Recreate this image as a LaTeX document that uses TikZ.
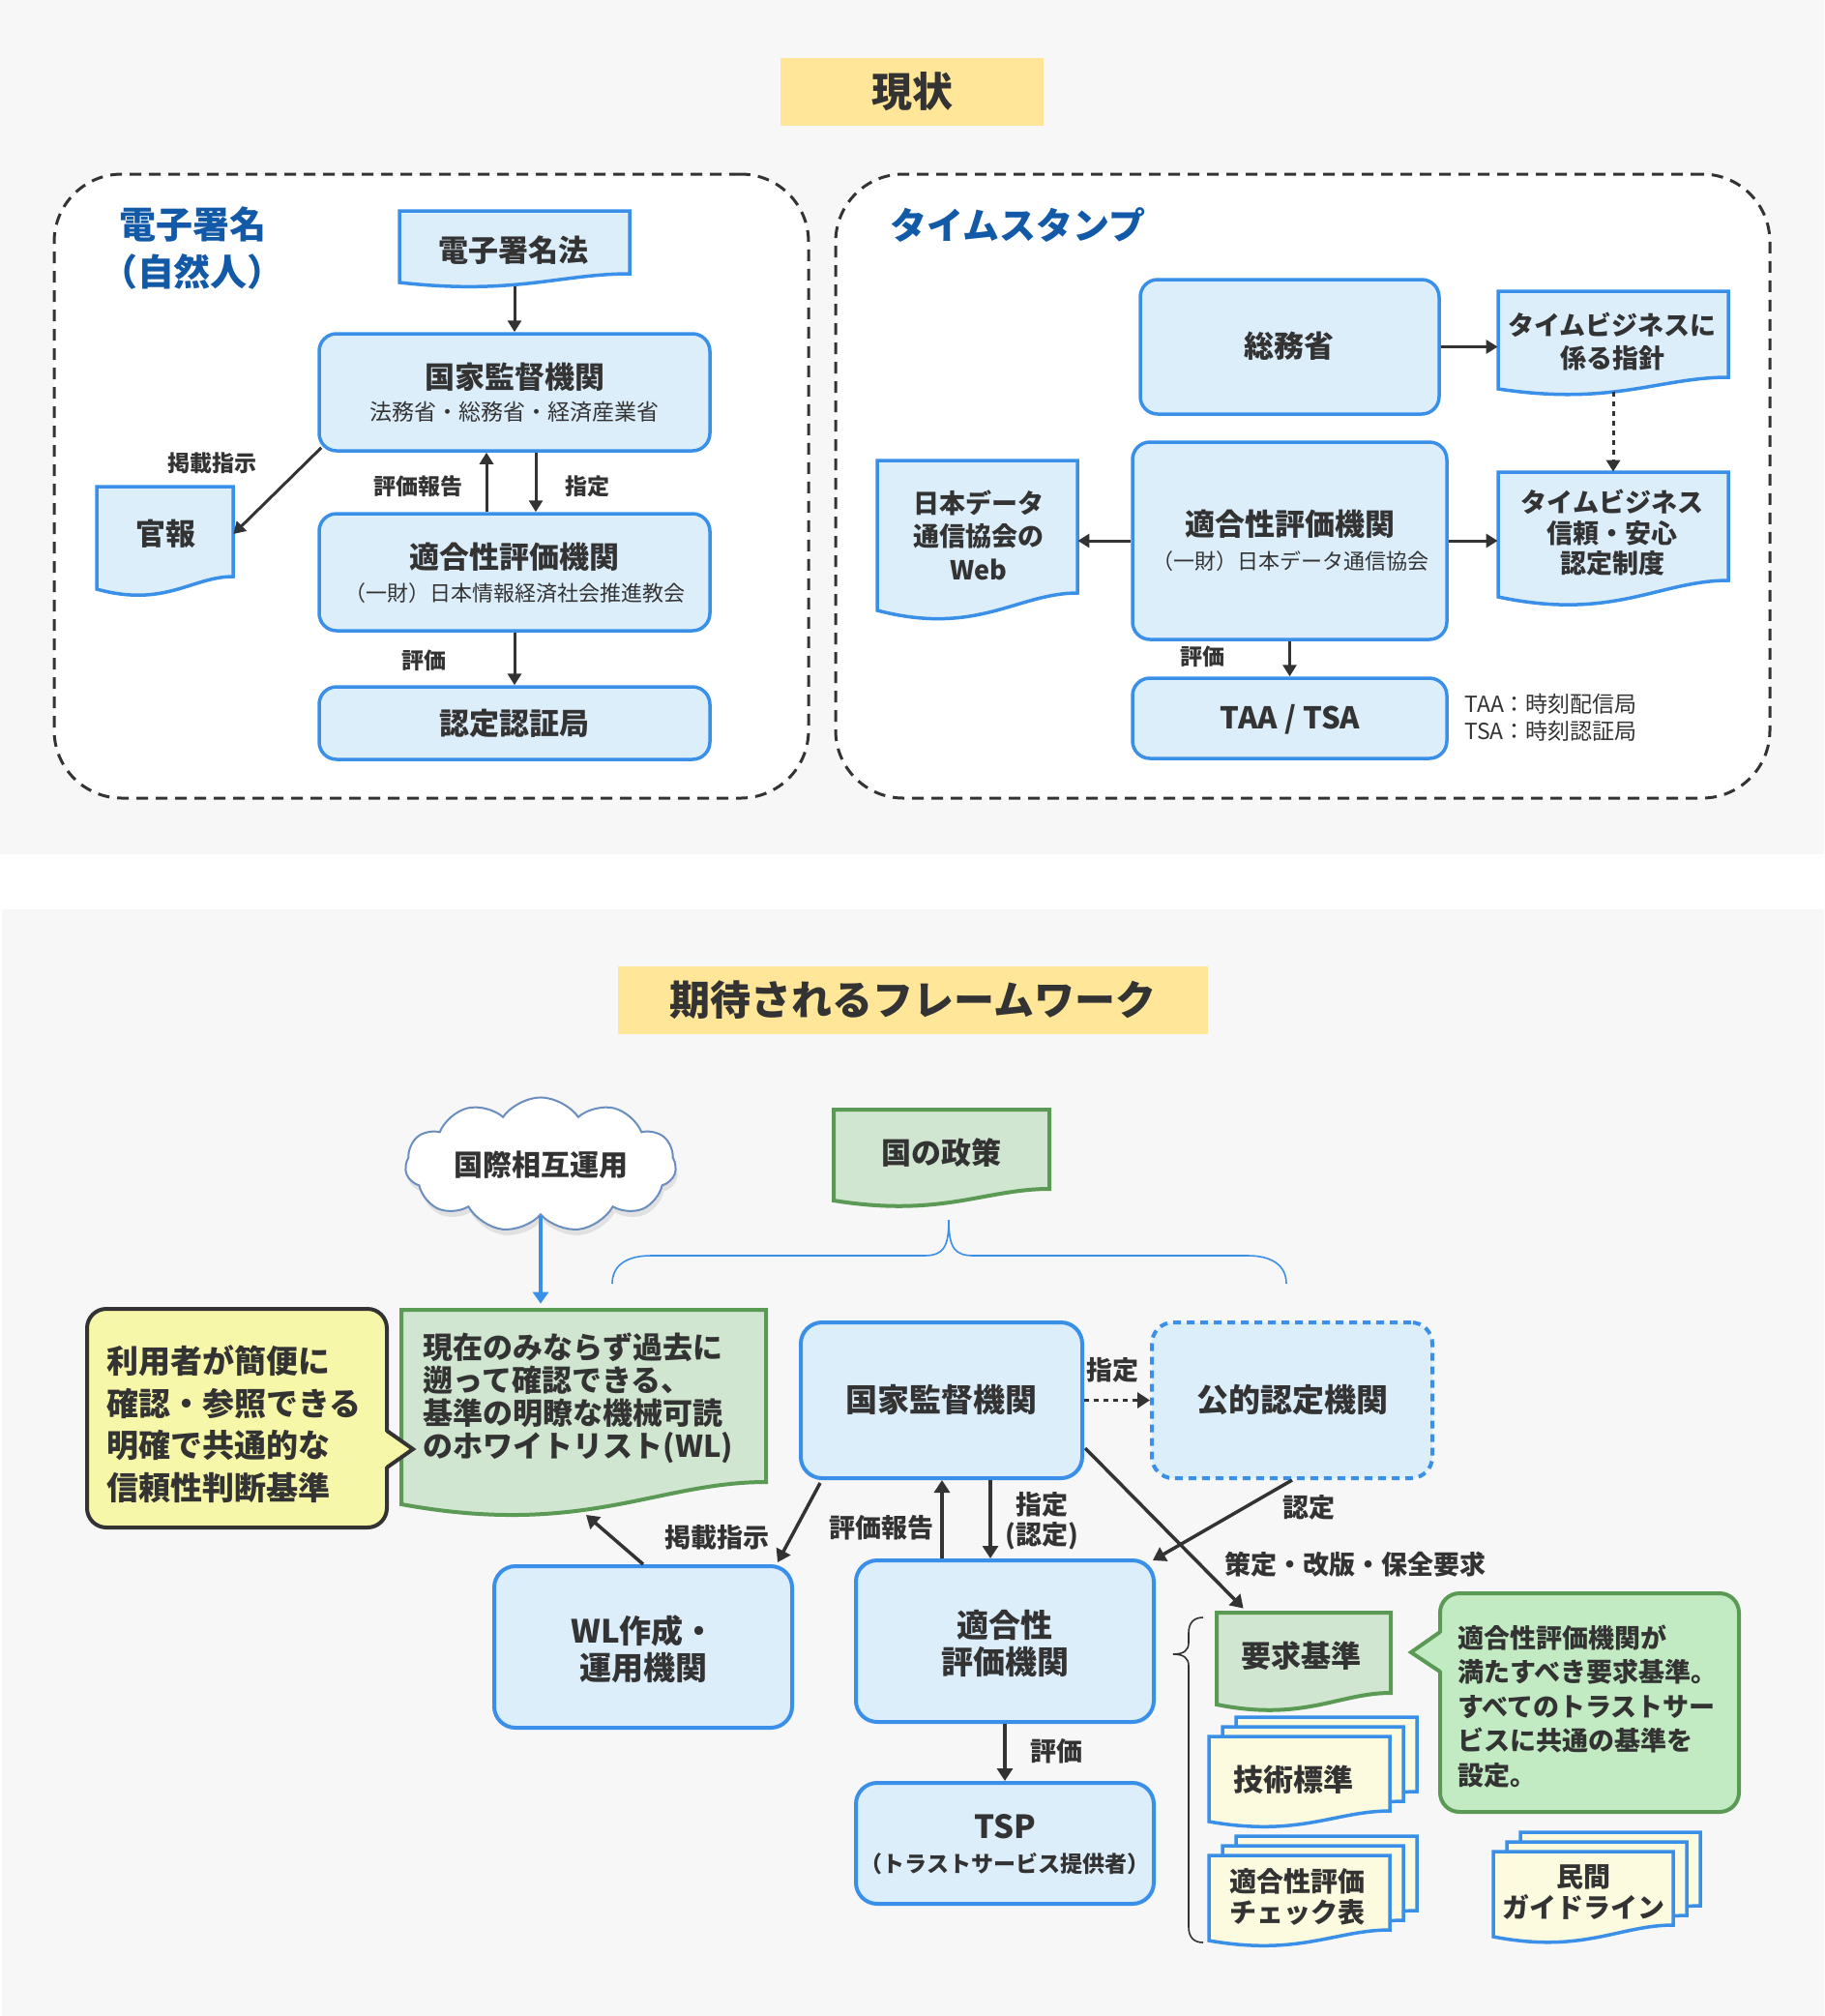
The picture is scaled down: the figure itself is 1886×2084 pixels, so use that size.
\documentclass[tikz,border=0pt]{standalone}
\usepackage{fontspec}
\setmainfont{Noto Sans CJK JP}
\usetikzlibrary{arrows.meta,shapes.symbols,shadows,fit,calc}
\newcommand\fs[2]{\fontsize{#1pt}{#2pt}\selectfont}
\newcommand\docshape[6]{\path[#1] ({#2},{#3}) -- ({#4},{#3}) -- ({#4},{#5}) .. controls ({(#4)-0.3*((#4)-(#2))},{#5}) and ({(#4)-0.5*((#4)-(#2))},{(#6)+1.5*((#6)-(#5))}) .. ({#2},{#6}) -- cycle;}
\newcommand\stackdoc[5]{%
  \docshape{docy}{(#1)+28}{(#2)-20}{(#3)+28}{(#4)-20}{(#5)-20}%
  \docshape{docy}{(#1)+14}{(#2)-10}{(#3)+14}{(#4)-10}{(#5)-10}%
  \docshape{docy}{#1}{#2}{#3}{#4}{#5}}
\definecolor{bblue}{HTML}{3A8FE8}
\definecolor{bfill}{HTML}{DDEEFB}
\definecolor{gline}{HTML}{5A9A55}
\definecolor{gfill}{HTML}{D0E6D0}
\definecolor{gcall}{HTML}{C3EBC3}
\definecolor{ycall}{HTML}{F7F7AA}
\definecolor{ydoc}{HTML}{FDFBDF}
\definecolor{ttl}{HTML}{FFE699}
\definecolor{txt}{HTML}{333333}
\definecolor{dblue}{HTML}{1259A8}
\definecolor{bg}{HTML}{F7F7F7}
\definecolor{cloudline}{HTML}{6A8EBE}
\begin{document}
\begin{tikzpicture}[x=0.5pt,y=-0.5pt,
  box/.style={draw=bblue, fill=bfill, line width=1.75pt, rounded corners=9pt, inner sep=0pt},
  boxb/.style={box, line width=2pt, rounded corners=11pt},
  panel/.style={draw=txt, fill=white, line width=1.5pt, dash pattern=on 6pt off 4pt, rounded corners=35pt, inner sep=0pt},
  ttlbox/.style={fill=ttl, inner sep=0pt},
  ttltxt/.style={inner sep=0pt, text=txt, font=\fs{21}{25}\bfseries},
  arr/.style={draw=txt, line width=1.5pt, -{Triangle[length=6pt,width=7pt]}},
  arrb/.style={draw=txt, line width=1.75pt, -{Triangle[length=6.5pt,width=8pt]}},
  arrblue/.style={draw=bblue, line width=2pt, -{Triangle[length=6pt,width=8pt]}},
  lbl/.style={text=txt, inner sep=0pt, font=\fs{11.5}{14}\bfseries},
  lblb/.style={text=txt, inner sep=0pt, font=\fs{13.5}{15.5}\bfseries, align=center},
  docb/.style={draw=bblue, fill=bfill, line width=1.75pt},
  docg/.style={draw=gline, fill=gfill, line width=2pt},
  docy/.style={draw=bblue, fill=ydoc, line width=1.75pt},
  tb/.style={inner sep=0pt, text=txt, align=center},
  t31/.style={tb, font=\fs{15.5}{18}\bfseries},
  t33/.style={tb, font=\fs{16.5}{19}\bfseries},
  area/.style={inner sep=0pt},
]
\useasboundingbox (0,0) rectangle (1886,2084);
\fill[white] (0,0) rectangle (1886,2084);
\fill[bg] (0,0) rectangle (1886,883);
\fill[bg] (2,940) rectangle (1886,2084);

% ===== top =====
\node[ttlbox, fit={(807,60) (1079,130)}] (t1) {};
\node[ttltxt] (t1t) at (943,95) {現状};
\node[panel, fit={(56,180) (836,825)}] (lp) {};
\node[panel, fit={(864,180) (1830,825)}] (rp) {};

\node[tb, text=dblue, font=\fs{19}{24.5}\bfseries] (h1) at (199,257) {電子署名\\（自然人）};
\node[tb, anchor=west, text=dblue, font=\fs{19}{24}\bfseries] (h2) at (920,233) {タイムスタンプ};

% left panel
\docshape{docb}{413}{218}{651}{283}{292}
\node[area, fit={(413,218) (651,296)}] (hoho) {};
\node[t31] (hohot) at (531,259) {電子署名法};
\node[box, fit={(330,345) (734,466)}] (kokka) {};
\node[t31] (kokkat) at (532,390) {国家監督機関};
\node[tb, font=\fs{11.5}{14}] (kokkas) at (532,426) {法務省・総務省・経済産業省};
\docshape{docb}{100}{503}{241}{596}{609}
\node[area, fit={(100,503) (241,601)}] (kanpo) {};
\node[t31] (kanpot) at (171,552) {官報};
\node[box, fit={(330,531) (734,652)}] (tekigo) {};
\node[t31] (tekigot) at (532,576) {適合性評価機関};
\node[tb, font=\fs{11}{14}] (tekigos) at (532,613) {（一財）日本情報経済社会推進教会};
\node[box, fit={(330,710) (734,785)}] (nintei) {};
\node[t31] (ninteit) at (532,748) {認定認証局};

\draw[arr] (hoho.south) -- (kokka.north);
\draw[arr] ($(kokka.south west)+(4,-5)$) -- (kanpo.east);
\coordinate (xu1) at (503,0);
\coordinate (xd1) at (554,0);
\draw[arr] (tekigo.north -| xu1) -- (kokka.south -| xu1);
\draw[arr] (kokka.south -| xd1) -- (tekigo.north -| xd1);
\draw[arr] (tekigo.south) -- (nintei.north);
\node[lbl] (l1) at (219,479) {掲載指示};
\node[lbl] (l2) at (432,503) {評価報告};
\node[lbl] (l3) at (607,503) {指定};
\node[lbl] (l4) at (438,683) {評価};

% right panel
\node[box, fit={(1179,289) (1488,428)}] (soumu) {};
\node[t31] (soumut) at (1333,358) {総務省};
\docshape{docb}{1549}{301}{1787}{390}{402}
\node[area, fit={(1549,301) (1787,405)}] (shishin) {};
\node[tb, font=\fs{13.5}{17}\bfseries] (shishint) at (1667,353) {タイムビジネスに\\係る指針};
\docshape{docb}{1549}{488}{1787}{600}{617}
\node[area, fit={(1549,488) (1787,616)}] (nseido) {};
\node[tb, font=\fs{13.5}{15.75}\bfseries] (nseidot) at (1667,551) {タイムビジネス\\信頼・安心\\認定制度};
\node[box, fit={(1171,457) (1496,661)}] (tekigoR) {};
\node[t31] (tekigoRt) at (1334,542) {適合性評価機関};
\node[tb, font=\fs{11}{14}] (tekigoRs) at (1334,580) {（一財）日本データ通信協会};
\docshape{docb}{907}{476}{1114}{613}{631}
\node[area, fit={(907,476) (1114,631)}] (web) {};
\node[tb, font=\fs{13.5}{17.25}\bfseries] (webt) at (1012,553) {日本データ\\通信協会の\\Web};
\node[box, fit={(1171,701) (1496,784)}] (taa) {};
\node[t31] (taat) at (1334,744) {TAA / TSA};
\node[tb, anchor=west, align=left, font=\fs{11.5}{14}] (note) at (1514,742) {TAA：時刻配信局\\TSA：時刻認証局};

\draw[arr] (soumu.east) -- (soumu.east -| shishin.west);
\draw[arr, dash pattern=on 2.5pt off 2.5pt] (shishin.south) -- (nseido.north);
\draw[arr] (tekigoR.west) -- (tekigoR.west -| web.east);
\draw[arr] (tekigoR.east) -- (tekigoR.east -| nseido.west);
\draw[arr] (tekigoR.south) -- (taa.north);
\node[lbl] (l5) at (1243,679) {評価};

% ===== bottom =====
\node[ttlbox, fit={(639,999) (1249,1069)}] (t2) {};
\node[ttltxt] (t2t) at (944,1034) {期待されるフレームワーク};

\node[cloud, cloud puffs=11, cloud puff arc=110, aspect=2.4, draw=cloudline, fill=white, line width=1pt,
  minimum width=140pt, minimum height=55pt, inner sep=0pt, text=txt, font=\fs{15}{18}\bfseries,
  drop shadow={opacity=0.18, shadow xshift=1pt, shadow yshift=-3pt}] (cloud) at (559,1204) {国際相互運用};

\docshape{docg}{862}{1147}{1085}{1229}{1241}
\node[area, fit={(862,1147) (1085,1237)}] (seisaku) {};
\node[t31] (seisakut) at (973,1192) {国の政策};

\draw[draw=bblue, line width=0.8pt] (633,1327) .. controls (633,1308) and (648,1298) .. (673,1298)
  -- (955,1298) .. controls (975,1298) and (981,1290) .. (981,1261)
  .. controls (981,1290) and (987,1298) .. (1007,1298) -- (1290,1298)
  .. controls (1315,1298) and (1330,1308) .. (1330,1327);

\docshape{docg}{415}{1354}{792}{1532}{1555}
\node[area, fit={(415,1354) (792,1560)}] (wl) {};
\node[tb, align=left, font=\fs{15.5}{17}\bfseries] (wlt) at (598,1445) {現在のみならず過去に\\遡って確認できる、\\基準の明瞭な機械可読\\のホワイトリスト(WL)};
\coordinate (wlw) at (606,1566);

\node[draw=txt, fill=ycall, line width=2pt, rounded corners=10pt, inner sep=0pt, fit={(90,1353) (400,1579)}] (ycallb) {};
\fill[ycall] (397,1479) -- (427,1498) -- (397,1517) -- cycle;
\draw[txt, line width=2pt] (400,1479) -- (427,1498) -- (400,1517);
\node[tb, anchor=west, align=left, font=\fs{16.5}{21.85}\bfseries] (ycallt) at (110,1472) {利用者が簡便に\\確認・参照できる\\明確で共通的な\\信頼性判断基準};

\node[boxb, fit={(828,1367) (1119,1528)}] (kokka2) {};
\node[t33] (kokka2t) at (973,1447) {国家監督機関};
\node[boxb, dash pattern=on 4pt off 3pt, fit={(1191,1367) (1481,1528)}] (kouteki) {};
\node[t33] (koutekit) at (1336,1447) {公的認定機関};
\node[boxb, fit={(511,1619) (819,1786)}] (wlsaku) {};
\node[t33] (wlsakut) at (665,1705) {WL作成・\\運用機関};
\node[boxb, fit={(885,1613) (1193,1780)}] (tekigo2) {};
\node[t33] (tekigo2t) at (1039,1699) {適合性\\評価機関};
\node[boxb, fit={(885,1843) (1193,1968)}] (tsp) {};
\node[t33] (tspt) at (1039,1888) {TSP};
\node[tb, font=\fs{11.5}{14}\bfseries] (tsps) at (1039,1927) {（トラストサービス提供者）};

\docshape{docg}{1258}{1667}{1438}{1750}{1762}
\node[area, fit={(1258,1667) (1438,1757)}] (youkyuu) {};
\node[t31] (youkyuut) at (1345,1712) {要求基準};

\node[draw=gline, fill=gcall, line width=2pt, rounded corners=10pt, inner sep=0pt, fit={(1489,1647) (1798,1873)}] (gcallb) {};
\fill[gcall] (1492,1687) -- (1459,1708) -- (1492,1728) -- cycle;
\draw[gline, line width=2pt] (1489,1687) -- (1459,1708) -- (1489,1728);
\node[tb, anchor=west, align=left, font=\fs{13.5}{17.75}\bfseries] (gcallt) at (1507,1764) {適合性評価機関が\\満たすべき要求基準。\\すべてのトラストサー\\ビスに共通の基準を\\設定。};

\stackdoc{1250}{1795}{1437}{1872}{1883}
\node[t31] (gijutsu) at (1337,1840) {技術標準};
\stackdoc{1250}{1918}{1437}{1995}{2006}
\node[tb, font=\fs{14}{16}\bfseries] (check) at (1341,1961) {適合性評価\\チェック表};
\stackdoc{1544}{1914}{1730}{1990}{2002}
\node[tb, font=\fs{14}{16}\bfseries] (minkan) at (1637,1956) {民間\\ガイドライン};

\draw[txt, line width=0.8pt] (1244,1672) .. controls (1234,1672) and (1229,1678) .. (1229,1688)
  -- (1229,1698) .. controls (1229,1706) and (1224,1710) .. (1213,1710)
  .. controls (1224,1710) and (1229,1714) .. (1229,1722) -- (1229,1992)
  .. controls (1229,2002) and (1234,2008) .. (1244,2008);

% bottom connectors
\draw[arrblue, shorten >=3pt] (cloud.south) -- (cloud.south |- wl.north);
\draw[arrb, dash pattern=on 2.5pt off 2.5pt] (kokka2.east) -- (kouteki.west);
\draw[arrb] ($(kokka2.south west)+(22,3)$) -- ($(wlsaku.north east)+(-17,-2)$);
\draw[arrb] (wlsaku.north) -- (wlw);
\coordinate (xu2) at (974,0);
\coordinate (xd2) at (1024,0);
\draw[arrb] (tekigo2.north -| xu2) -- (kokka2.south -| xu2);
\draw[arrb] (kokka2.south -| xd2) -- (tekigo2.north -| xd2);
\draw[arrb] (kouteki.south) -- ($(tekigo2.north east)+(-3,2)$);
\draw[arrb] ($(kokka2.south east)+(1,-33)$) -- ($(youkyuu.north west)+(28,-4)$);
\draw[arrb] (tekigo2.south) -- (tsp.north);

\node[lblb] (m1) at (1150,1416) {指定};
\node[lblb] (m2) at (741,1589) {掲載指示};
\node[lblb] (m3) at (911,1579) {評価報告};
\node[lblb] (m4) at (1077,1572) {指定\\(認定)};
\node[lblb] (m5) at (1353,1558) {認定};
\node[lblb] (m6) at (1401,1617) {策定・改版・保全要求};
\node[lblb] (m7) at (1092,1810) {評価};
\end{tikzpicture}
\end{document}
